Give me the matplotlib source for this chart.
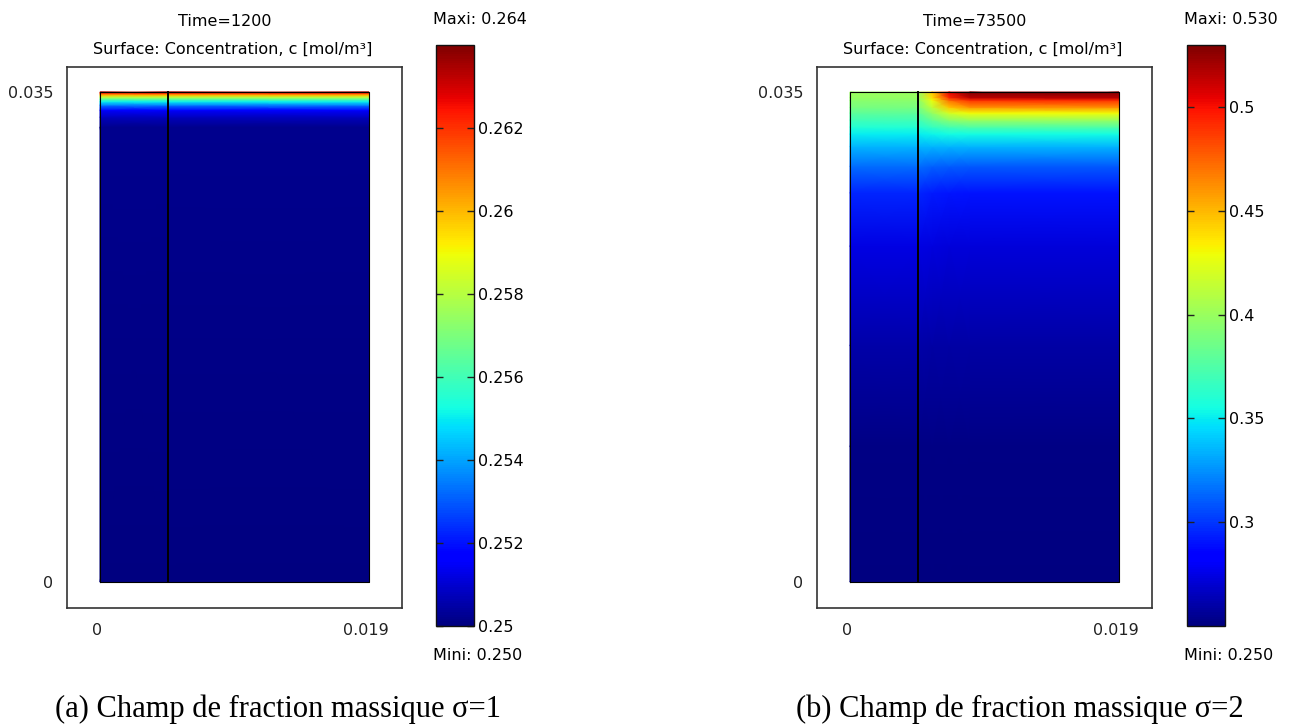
"""COMSOL-style concentration fields for sigma=1 and sigma=2, side by side."""
import matplotlib

matplotlib.use("Agg")
import matplotlib.pyplot as plt  # noqa: E402
import numpy as np  # noqa: E402
from matplotlib.colors import Normalize  # noqa: E402
from matplotlib.cm import ScalarMappable  # noqa: E402
from matplotlib.transforms import ScaledTranslation  # noqa: E402

# geometry (m)
DOMAIN_W = 0.019
DOMAIN_H = 0.035
DIVIDER_X = 0.0048

# (a) sigma=1, Time=1200 -- profile along height, uniform along x
HEIGHT_A = [0.0, 0.0325, 0.03321, 0.03371, 0.03407, 0.03431, 0.0345, 0.03464, 0.03479, 0.03493, 0.035]
CONC_A = [0.2500, 0.2502, 0.2508, 0.2518, 0.2535, 0.2550, 0.2565, 0.2580, 0.2600, 0.2620, 0.2635]
X_A = [0.0, DIVIDER_X, DOMAIN_W]
TICKS_A = [0.25, 0.252, 0.254, 0.256, 0.258, 0.26, 0.262]
MIN_A, MAX_A = 0.250, 0.264

# (b) sigma=2, Time=73500 -- one profile per x column
HEIGHT_B = [0.0, 0.0097, 0.0169, 0.0240, 0.0278, 0.0297, 0.0311, 0.0320,
            0.0325, 0.0330, 0.0335, 0.0339, 0.0344, 0.0346, 0.035]
X_B = [0.0, DIVIDER_X, 0.0058, 0.0070, 0.0085, DOMAIN_W]
CONC_B_INNER = [0.250, 0.252, 0.260, 0.275, 0.295, 0.315, 0.335, 0.350,
                0.360, 0.370, 0.380, 0.388, 0.395, 0.398, 0.400]
CONC_B_EDGE1 = [0.250, 0.252, 0.259, 0.273, 0.292, 0.312, 0.335, 0.352,
                0.366, 0.382, 0.398, 0.412, 0.428, 0.438, 0.445]
CONC_B_EDGE2 = [0.250, 0.252, 0.259, 0.272, 0.291, 0.311, 0.335, 0.354,
                0.372, 0.395, 0.420, 0.445, 0.472, 0.492, 0.505]
CONC_B_OUTER = [0.250, 0.252, 0.259, 0.272, 0.290, 0.310, 0.335, 0.355,
                0.375, 0.400, 0.430, 0.460, 0.490, 0.515, 0.530]
TICKS_B = [0.3, 0.35, 0.4, 0.45, 0.5]
MIN_B, MAX_B = 0.250, 0.530

FS = 11.5
EDGE = "#333333"


def draw_panel(fig, ax_rect, cb_rect, x, h, field, vmin, vmax, ticks, time, caption, cap_x):
    ax = fig.add_axes(ax_rect)
    norm = Normalize(vmin, vmax)
    ax.pcolormesh(x, h, field, cmap="jet", norm=norm, shading="gouraud")
    # subdomain boundaries
    ax.plot([0, DOMAIN_W, DOMAIN_W, 0, 0], [0, 0, DOMAIN_H, DOMAIN_H, 0], color="black", lw=0.8)
    ax.plot([DIVIDER_X, DIVIDER_X], [0, DOMAIN_H], color="black", lw=1.4)

    ax.set_xlim(-0.00233, DOMAIN_W + 0.00233)
    ax.set_ylim(-0.00186, DOMAIN_H + 0.00179)
    ax.set_xticks([0, DOMAIN_W])
    ax.set_xticklabels(["0", "0.019"])
    ax.set_yticks([0, DOMAIN_H])
    ax.set_yticklabels(["0", "0.035"])
    ax.tick_params(length=0, labelsize=FS, colors="#222222")
    ax.tick_params(axis="x", pad=11)
    ax.tick_params(axis="y", pad=10)
    shift = ScaledTranslation(-3 / 100, 0, fig.dpi_scale_trans)
    for lab in ax.get_xticklabels():
        lab.set_transform(lab.get_transform() + shift)
    for sp in ax.spines.values():
        sp.set_color(EDGE)
        sp.set_linewidth(1.2)

    # two title lines above the frame
    ax.annotate(f"Time={time}", xy=(0.5, 1), xycoords="axes fraction",
                xytext=(-10, 45), textcoords="offset pixels", ha="center", va="center", fontsize=FS)
    ax.annotate("Surface: Concentration, c [mol/m³]", xy=(0.5, 1), xycoords="axes fraction",
                xytext=(-2, 18), textcoords="offset pixels", ha="center", va="center", fontsize=FS)

    cax = fig.add_axes(cb_rect)
    cb = fig.colorbar(ScalarMappable(norm=norm, cmap="jet"), cax=cax, ticks=ticks)
    cb.ax.set_yticklabels([f"{t:g}" for t in ticks])
    cb.outline.set_linewidth(1.0)
    cb.outline.set_edgecolor("#111111")
    cax.tick_params(direction="in", left=True, right=True, labelleft=False, labelright=True,
                    length=5, width=1, color="#222222", labelsize=FS, pad=3)
    cax.annotate(f"Maxi: {vmax:.3f}", xy=(0, 1), xycoords="axes fraction", xytext=(-3, 25),
                 textcoords="offset pixels", ha="left", va="center", fontsize=FS)
    cax.annotate(f"Mini: {vmin:.3f}", xy=(0, 0), xycoords="axes fraction", xytext=(-3, -29),
                 textcoords="offset pixels", ha="left", va="center", fontsize=FS)

    fig.text(cap_x, 1 - 709 / 726, caption, ha="center", va="center",
             fontsize=22, family="Liberation Serif")


def main():
    fig = plt.figure(figsize=(12.96, 7.26), dpi=100)

    field_a = np.array([[c] * len(X_A) for c in CONC_A])
    draw_panel(fig, [67 / 1296, 118 / 726, 335 / 1296, 541 / 726],
               [436 / 1296, 100 / 726, 38 / 1296, 581 / 726],
               X_A, HEIGHT_A, field_a, MIN_A, MAX_A, TICKS_A, 1200,
               "(a) Champ de fraction massique σ=1", 278 / 1296)

    field_b = np.column_stack([CONC_B_INNER, CONC_B_INNER, CONC_B_EDGE1,
                               CONC_B_EDGE2, CONC_B_OUTER, CONC_B_OUTER])
    draw_panel(fig, [817 / 1296, 118 / 726, 335 / 1296, 541 / 726],
               [1187 / 1296, 100 / 726, 38 / 1296, 581 / 726],
               X_B, HEIGHT_B, field_b, MIN_B, MAX_B, TICKS_B, 73500,
               "(b) Champ de fraction massique σ=2", 1020 / 1296)

    fig.savefig("out.png", dpi=100)
    plt.close(fig)


if __name__ == "__main__":
    main()
